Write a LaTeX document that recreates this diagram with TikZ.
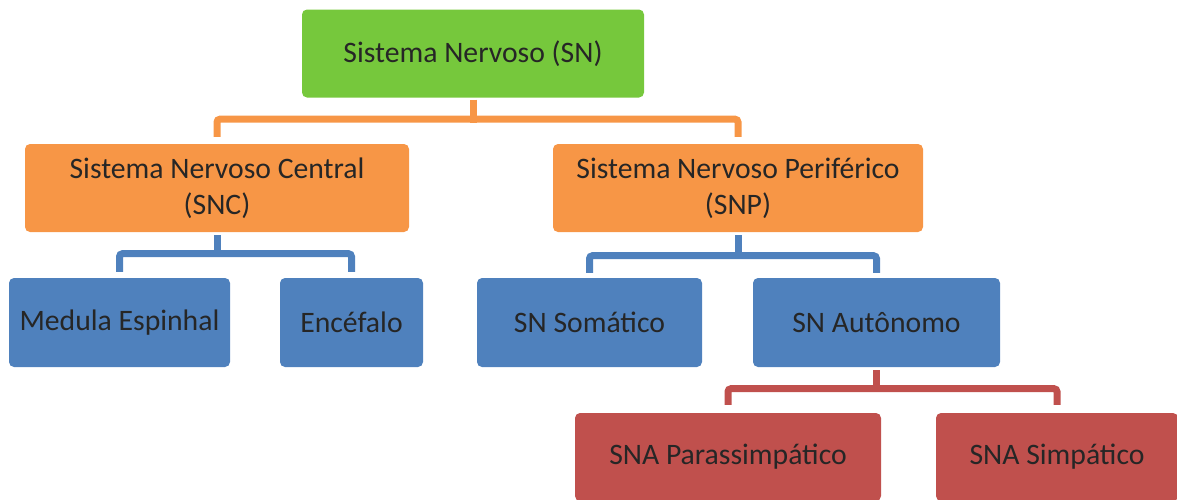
\documentclass[tikz,border=0pt]{standalone}
\usepackage{fontspec}
\setmainfont{Carlito}
\usetikzlibrary{positioning, calc}

\definecolor{snGreen}{RGB}{118,200,60}
\definecolor{snOrange}{RGB}{247,150,70}
\definecolor{snBlue}{RGB}{79,129,189}
\definecolor{snRed}{RGB}{192,80,77}
\definecolor{txtGray}{RGB}{38,38,38}

\tikzset{
  box/.style={rectangle, rounded corners=5pt, inner sep=0pt, align=center,
    text=txtGray, minimum height=88pt, font=\fontsize{29.7}{36}\selectfont},
  link/.style={line width=7pt, rounded corners=3pt},
}

\begin{document}
\begin{tikzpicture}[x=1pt, y=-1pt]
  \useasboundingbox (0,0) rectangle (1177,499);

  % levels
  \node[box, fill=snGreen, minimum width=342pt] (sn) at (473,53.5) {Sistema Nervoso (SN)};
  \node[box, fill=snOrange, minimum width=384pt] (snc) at (217,188) {Sistema Nervoso Central\\(SNC)};
  \node[box, fill=snOrange, minimum width=370pt] (snp) at (738,188) {Sistema Nervoso Perif\'erico\\(SNP)};
  \node[box, fill=snBlue, minimum width=221pt, minimum height=89pt] (medula) at (119.5,322.5) {Medula Espinhal};
  \node[box, fill=snBlue, minimum width=143pt, minimum height=89pt] (encefalo) at (351.5,322.5) {Enc\'efalo};
  \node[box, fill=snBlue, minimum width=225pt, minimum height=89pt] (somatico) at (589.5,322.5) {SN Som\'atico};
  \node[box, fill=snBlue, minimum width=247pt, minimum height=89pt] (autonomo) at (876.5,322.5) {SN Aut\^onomo};
  \node[box, fill=snRed, minimum width=306pt] (parass) at (728,457) {SNA Parassimp\'atico};
  \node[box, fill=snRed, minimum width=242pt] (simpatico) at (1057,457) {SNA Simp\'atico};

  % connectors
  \draw[link, snOrange, shorten <=2pt] (sn.south) -- ($(sn.south)+(0,25)$);
  \draw[link, snOrange, shorten <=7pt, shorten >=7pt] (snc.north) |- ($(sn.south)+(0,21.5)$) -| (snp.north);

  \draw[link, snBlue, shorten <=3pt] (snc.south) -- ($(snc.south)+(0,25)$);
  \draw[link, snBlue, shorten <=6pt, shorten >=6pt] (medula.north) |- ($(snc.south)+(0,21.5)$) -| (encefalo.north);

  \draw[link, snBlue, shorten <=3pt] (snp.south) -- ($(snp.south)+(0,27)$);
  \draw[link, snBlue, shorten <=5pt, shorten >=5pt] (somatico.north) |- ($(snp.south)+(0,23.5)$) -| (autonomo.north);

  \draw[link, snRed, shorten <=3pt] (autonomo.south) -- ($(autonomo.south)+(0,25)$);
  \draw[link, snRed, shorten <=8pt, shorten >=8pt] (parass.north) |- ($(autonomo.south)+(0,21.5)$) -| (simpatico.north);
\end{tikzpicture}
\end{document}
